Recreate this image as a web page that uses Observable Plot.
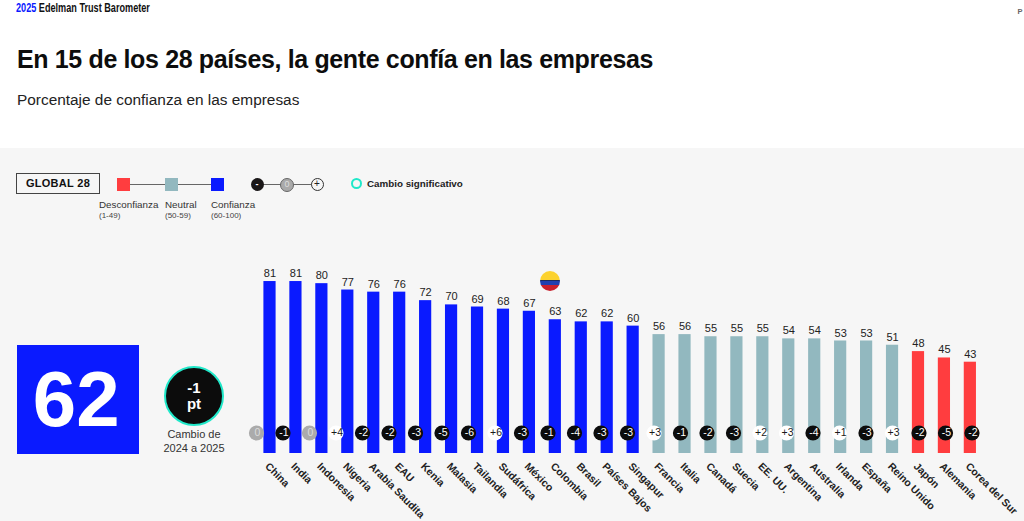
<!DOCTYPE html>
<html lang="es">
<head>
<meta charset="utf-8">
<script src="https://cdn.jsdelivr.net/npm/d3@7"></script>
<script src="https://cdn.jsdelivr.net/npm/@observablehq/plot@0.6"></script>
<style>
html,body{margin:0;padding:0;width:1024px;height:521px;overflow:hidden;background:#fff;font-family:"Liberation Sans",Arial,sans-serif;color:#111}
.a{position:absolute;white-space:nowrap}
#panel{left:0;top:148px;width:1024px;height:373px;background:#f6f6f6}
#chart,#changes{position:absolute;left:0;top:0}
#chart svg,#changes svg{background:transparent;display:block}
.sq{width:13px;height:13px;top:177.5px}
.ln{height:1px;background:#666;top:184px}
.dt{border-radius:50%;box-sizing:border-box;text-align:center}
.lab{font-size:9.8px;color:#333}
.sub{font-size:8px;color:#444}
</style>
</head>
<body>
<div class="a" id="panel"></div>

<div class="a" style="left:16px;top:1.4px;font:700 12.5px 'Liberation Sans';transform:scaleX(.73);transform-origin:left top"><span style="color:#0a1aff">2025</span> Edelman Trust Barometer</div>
<div class="a" style="left:1017.500px;top:6.500px;font:700 7.500px 'Liberation Sans';color:#666">P</div>

<div class="a" id="title" style="left:17px;top:45px;font-size:25px;font-weight:700;letter-spacing:-.36px;color:#0d0d0d"></div>
<div class="a" id="subtitle" style="left:17px;top:91px;font-size:15.400px;color:#222"></div>

<div class="a" style="left:16px;top:173px;width:84px;height:21px;box-sizing:border-box;border:1.5px solid #444;text-align:center;font:700 11px/18px 'Liberation Sans';letter-spacing:.3px" id="scope"></div>

<div class="a ln" style="left:125px;width:92px"></div>
<div class="a sq" style="left:117px;background:#ff3d3f"></div>
<div class="a sq" style="left:164.500px;background:#92b8bf"></div>
<div class="a sq" style="left:211px;background:#0a1aff"></div>
<div class="a lab" style="left:99px;top:198.500px">Desconfianza</div><div class="a sub" style="left:99px;top:211px">(1-49)</div>
<div class="a lab" style="left:165px;top:198.500px">Neutral</div><div class="a sub" style="left:165px;top:211px">(50-59)</div>
<div class="a lab" style="left:211px;top:198.500px">Confianza</div><div class="a sub" style="left:211px;top:211px">(60-100)</div>

<div class="a ln" style="left:257px;width:60px"></div>
<div class="a dt" style="left:250.500px;top:177.500px;width:13px;height:13px;background:#1a1718;color:#fff;font:700 9px/12px 'Liberation Sans'">-</div>
<div class="a dt" style="left:280px;top:177.500px;width:14px;height:14px;background:#aaa;border:1.5px solid #666;color:#ddd;font:9px/11px 'Liberation Sans'">0</div>
<div class="a dt" style="left:310.500px;top:177.500px;width:13px;height:13px;background:#f6f6f6;border:1px solid #333;color:#222;font:10px/10.500px 'Liberation Sans'">+</div>
<div class="a dt" style="left:350.500px;top:178px;width:11px;height:11px;border:2px solid #1fe8c9"></div>
<div class="a" style="left:367px;top:178px;font:700 9.800px 'Liberation Sans';color:#222">Cambio significativo</div>

<div class="a" id="kpi" style="left:16.500px;top:345px;width:122.500px;height:109px;background:#0a1aff;color:#fff;text-align:center;text-indent:-3px;font:700 78px/109px 'Liberation Sans'"></div>
<div class="a dt" id="delta" style="left:164px;top:365.500px;width:60px;height:60px;background:#0c0c0c;border:2px solid #1fe8c9;color:#fff;font:700 15px/16px 'Liberation Sans';padding-top:12px;white-space:normal"></div>
<div class="a" style="left:144px;width:100px;top:428px;text-align:center;font-size:11px;line-height:13.500px;color:#333;white-space:normal">Cambio de<br>2024 a 2025</div>

<div id="chart"></div>
<div id="changes"></div>
<div class="a" style="left:539.500px;top:270.500px;width:20.500px;height:20.500px;border-radius:50%;background:linear-gradient(#fcd22f 0 43%,#1b2a5e 43% 50%,#1f3fb0 50% 68%,#c8202c 68% 100%)"></div>

<script>
const titleText = "En 15 de los 28 países, la gente confía en las empresas";
const subtitleText = "Porcentaje de confianza en las empresas";
const scopeText = "GLOBAL 28";
const globalTrust = 62;
const globalChange = -1;

const countries = ["China","India","Indonesia","Nigeria","Arabia Saudita","EAU","Kenia","Malasia","Tailandia","Sudáfrica","México","Colombia","Brasil","Países Bajos","Singapur","Francia","Italia","Canadá","Suecia","EE. UU.","Argentina","Australia","Irlanda","España","Reino Unido","Japón","Alemania","Corea del Sur"];
const trust = [81,81,80,77,76,76,72,70,69,68,67,63,62,62,60,56,56,55,55,55,54,54,53,53,51,48,45,43];
const change = [0,-1,0,4,-2,-2,-3,-5,-6,6,-3,-1,-4,-3,-3,3,-1,-2,-3,2,3,-4,1,-3,3,-2,-5,-2];

const signed = v => (v > 0 ? "+" : "") + v;
document.getElementById("title").textContent = titleText;
document.getElementById("subtitle").textContent = subtitleText;
document.getElementById("scope").textContent = scopeText;
document.getElementById("kpi").textContent = globalTrust;
document.getElementById("delta").innerHTML = signed(globalChange) + "<br>pt";

const rows = countries.map((country, i) => ({country, trust: trust[i], change: change[i]}));
const font = "'Liberation Sans',Arial,sans-serif";

const chart = Plot.plot({
  width: 1024, height: 521,
  marginTop: 0, marginLeft: 0, marginRight: 0, marginBottom: 68,
  style: {fontFamily: font, background: "transparent", overflow: "visible"},
  x: {domain: countries, range: [249.65, 989.7], padding: 0.53, round: false, label: null},
  y: {domain: [0, 100], range: [453, 240.7], axis: null},
  color: {type: "threshold", domain: [50, 60], range: ["#ff3d3f", "#92b8bf", "#0a1aff"]},
  marks: [
    Plot.barY(rows, {x: "country", y: "trust", fill: d => d.trust}),
    Plot.text(rows, {x: "country", y: "trust", text: d => String(d.trust), dy: -8, fontSize: 11, fill: "#222"}),
    Plot.axisX({tickRotate: 45, tickSize: 0, tickPadding: 11, dx: -3, fontSize: 10.5, fontWeight: 700, fill: "#222", label: null})
  ]
});
document.getElementById("chart").append(chart);

// The change markers run on their own, slightly wider point scale than the bars.
const changes = Plot.plot({
  width: 1024, height: 521,
  marginTop: 0, marginLeft: 0, marginRight: 0, marginBottom: 68,
  style: {fontFamily: font, background: "transparent", overflow: "visible"},
  x: {domain: countries, range: [256, 971.5], padding: 0, round: false, axis: null},
  marks: [
    Plot.dot(rows, {x: "country", frameAnchor: "bottom", dy: -20.5, r: 7.6,
      fill: d => d.change < 0 ? "#0c0c0c" : d.change === 0 ? "#ababab" : "#ffffff"}),
    Plot.text(rows, {x: "country", frameAnchor: "bottom", lineAnchor: "middle", dx: 1, dy: -20.5, text: d => signed(d.change), fontSize: 10.5,
      fill: d => d.change < 0 ? "#ffffff" : d.change === 0 ? "#dcdcdc" : "#1a1a1a"})
  ]
});
document.getElementById("changes").append(changes);
</script>
</body>
</html>
